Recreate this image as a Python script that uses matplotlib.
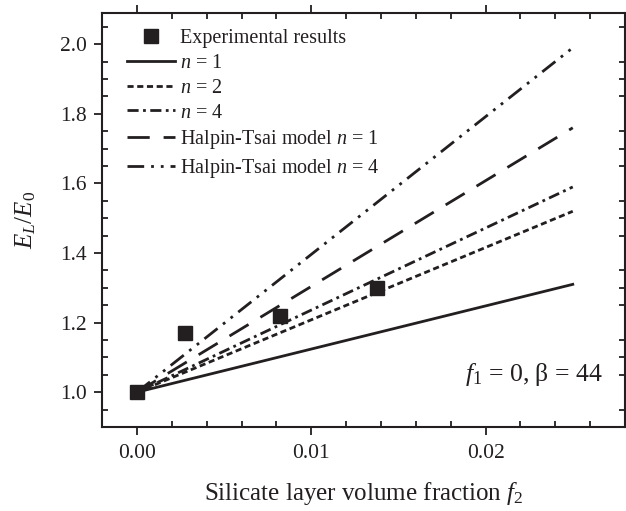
import numpy as np
import matplotlib
matplotlib.use("Agg")
import matplotlib.pyplot as plt
from matplotlib.ticker import MultipleLocator, FormatStrFormatter

plt.rcParams["font.family"] = ["Liberation Serif", "DejaVu Serif"]
plt.rcParams["mathtext.fontset"] = "custom"
plt.rcParams["mathtext.rm"] = "Liberation Serif"
plt.rcParams["mathtext.it"] = "Liberation Serif:italic"

# experimental points
exp_f2 = [0.0, 0.00275, 0.0082, 0.0138]
exp_E = [1.0, 1.17, 1.22, 1.30]

# model lines: value at f2 = 0 and f2 = 0.025
line_f2 = [0.0, 0.025]
n1 = [1.0, 1.31]
n2 = [1.0, 1.52]
n4 = [1.0, 1.59]
ht_n1 = [1.0, 1.76]
ht_n4 = [1.0, 1.99]

fig = plt.figure(figsize=(6.26, 5.11), dpi=100)
ax = fig.add_axes([0.163, 0.1644, 0.8355, 0.8102])

c = "#231f20"
lw = 2.0
ax.plot(exp_f2, exp_E, "s", color=c, markersize=9.5, label="Experimental results", zorder=5)
ax.plot(line_f2, n1, "-", color=c, lw=lw, label="$n$ = 1")
ax.plot(line_f2, n2, color=c, lw=lw, dashes=(2.2, 1.3), label="$n$ = 2")
ax.plot(line_f2, n4, color=c, lw=lw, dashes=(4, 1.6, 1, 1.6), label="$n$ = 4")
ax.plot(line_f2, ht_n1, color=c, lw=lw, dashes=(8, 5), label="Halpin-Tsai model $n$ = 1")
ax.plot(line_f2, ht_n4, color=c, lw=lw, dashes=(6, 2.5, 1, 2.5, 1, 2.5), label="Halpin-Tsai model $n$ = 4")

ax.set_xlim(-0.002, 0.028)
ax.set_ylim(0.9, 2.09)
ax.xaxis.set_major_locator(MultipleLocator(0.01))
ax.xaxis.set_minor_locator(MultipleLocator(0.002))
ax.yaxis.set_major_locator(MultipleLocator(0.2))
ax.yaxis.set_minor_locator(MultipleLocator(0.05))
ax.xaxis.set_major_formatter(FormatStrFormatter("%.2f"))
ax.yaxis.set_major_formatter(FormatStrFormatter("%.1f"))

ax.tick_params(which="major", direction="out", length=6, width=1.3, top=True, right=True,
               labelsize=15.5, pad=5, colors=c)
ax.tick_params(axis="x", which="major", pad=6.5)
ax.tick_params(which="minor", direction="in", length=4, width=1.3, top=True, right=True, colors=c)
for s in ax.spines.values():
    s.set_linewidth(1.5)
    s.set_color(c)

ax.set_xlabel("Silicate layer volume fraction $f_2$", fontsize=18, labelpad=12, color=c)
ax.set_ylabel(r"$E_L/E_\mathit{0}$", fontsize=18, labelpad=16, color=c)

ax.text(0.0267, 1.05, r"$f_\mathit{1}$ = 0, β = 44", fontsize=18.5, ha="right", va="center", color=c)

ax.legend(loc="upper left", bbox_to_anchor=(0.025, 0.99), frameon=False, fontsize=14.5,
          handlelength=2.35, handletextpad=0.25, labelspacing=0.28, borderaxespad=0.3,
          borderpad=0.3, labelcolor=c)

fig.savefig("out.png", dpi=100)
